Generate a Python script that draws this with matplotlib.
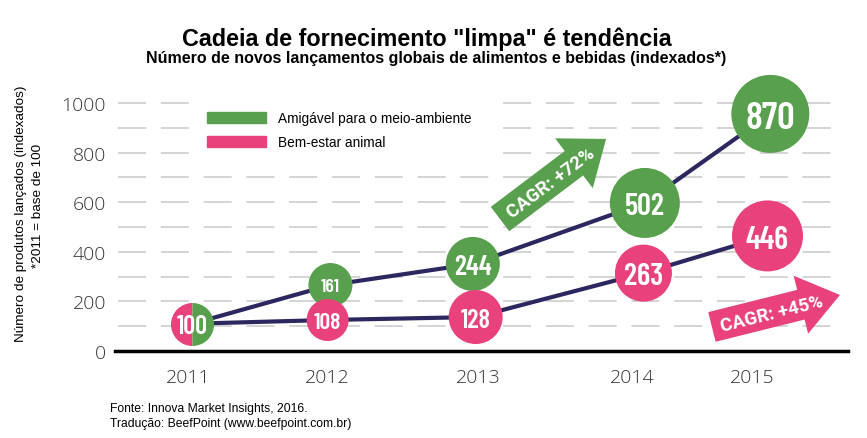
import matplotlib
matplotlib.use("Agg")
import matplotlib.pyplot as plt
from matplotlib.patches import Rectangle, Patch, FancyArrowPatch, ArrowStyle

# data
years = ["2011", "2012", "2013", "2014", "2015"]
year_pos = [2011, 2011.99, 2013.06, 2014.15, 2015]

green_labels = ["100", "161", "244", "502", "870"]
pink_labels = ["100", "108", "128", "263", "446"]

# where the circles sit (the original is not drawn to scale)
green_x = [2011.03, 2012.01, 2013.02, 2014.24, 2015.13]
green_y = [110, 266, 351, 597, 956]
pink_x = [2011.03, 2011.99, 2013.04, 2014.23, 2015.11]
pink_y = [110, 125, 137, 314, 464]

# circle diameters (px) and number sizes (pt)
green_d = [43, 44, 54, 70, 78]
pink_d = [43, 42, 54, 57, 71]
green_fs = [19, 14, 20, 22, 28]
pink_fs = [19, 17, 19, 22, 23]

green = '#58a04d'
pink = '#e8417b'
navy = '#2b2860'
narrow = ['Barlow Condensed', 'Roboto Condensed', 'IBM Plex Sans Condensed', 'DejaVu Sans']
arrow_font = ['Roboto', 'DejaVu Sans']

plt.rcParams['lines.scale_dashes'] = False

fig = plt.figure(figsize=(8.67, 4.39), dpi=100)
ax = fig.add_axes([115/867, 87/439, 733/867, 248/439])
ax.set_xlim(2010.482, 2015.681)
ax.set_ylim(0, 1000)
for s in ['top', 'right', 'left']:
    ax.spines[s].set_visible(False)
ax.spines['bottom'].set_linewidth(2.5)
ax.spines['bottom'].set_zorder(8)

# dashed grid
for v in range(100, 1001, 100):
    ax.axhline(v, xmin=0, xmax=0.978, color='#c9c9c9', lw=1.1,
               ls=(28.6, (20.2, 10.6)), zorder=1, clip_on=False)

ax.set_yticks(range(0, 1001, 200))
ax.set_xticks(year_pos, years)
ax.tick_params(axis='y', length=0, pad=6.5, labelsize=14, labelcolor='#333333')
ax.tick_params(axis='x', length=0, pad=12, labelsize=14, labelcolor='#333333')
for label in ax.get_xticklabels() + ax.get_yticklabels():
    label.set_fontfamily('Open Sans')
    label.set_fontweight('light')

# white box behind legend
ax.add_patch(Rectangle((0.109, 0.766), 0.413, 0.28, transform=ax.transAxes,
                       color='white', zorder=1.5, clip_on=False))
handles = [Patch(color=green, label='Amigável para o meio-ambiente'),
           Patch(color=pink, label='Bem-estar animal')]
ax.legend(handles=handles, loc='upper left', bbox_to_anchor=(0.1255, 0.968),
          frameon=False, borderpad=0, borderaxespad=0, handlelength=4.3,
          handleheight=0.82, handletextpad=0.95, labelspacing=0.75,
          prop={'family': 'Liberation Sans', 'size': 9.8})

# lines
ax.plot(green_x, green_y, color=navy, lw=3, zorder=3, solid_capstyle='butt')
ax.plot(pink_x, pink_y, color=navy, lw=3, zorder=3, solid_capstyle='butt')

# green circles
ax.scatter(green_x[1:], green_y[1:], s=[(d*0.72)**2 for d in green_d[1:]],
           color=green, linewidths=0, zorder=4, clip_on=False)
for x, y, t, fs in zip(green_x[1:], green_y[1:], green_labels[1:], green_fs[1:]):
    ax.annotate(t, (x, y), xytext=(0, -0.1*fs), textcoords='offset points',
                ha='center', va='center', color='white', fontsize=fs,
                fontweight='semibold', family=narrow, zorder=5)

# pink circles
ax.scatter(pink_x[1:], pink_y[1:], s=[(d*0.72)**2 for d in pink_d[1:]],
           color=pink, linewidths=0, zorder=6, clip_on=False)
for x, y, t, fs in zip(pink_x[1:], pink_y[1:], pink_labels[1:], pink_fs[1:]):
    ax.annotate(t, (x, y), xytext=(0, -0.1*fs), textcoords='offset points',
                ha='center', va='center', color='white', fontsize=fs,
                fontweight='semibold', family=narrow, zorder=7)

# 2011: shared start, half and half
ax.plot([pink_x[0]], [pink_y[0]], marker='o', ms=pink_d[0]*0.72, fillstyle='left',
        markerfacecolor=pink, markerfacecoloralt=green, markeredgewidth=0, zorder=6)
ax.annotate(pink_labels[0], (pink_x[0], pink_y[0]), xytext=(0, -0.1*pink_fs[0]),
            textcoords='offset points', ha='center', va='center', color='white',
            fontsize=pink_fs[0], fontweight='semibold', family=narrow, zorder=7)

# CAGR arrows
ax.add_patch(FancyArrowPatch((2013.213, 532), (2013.965, 855),
             arrowstyle=ArrowStyle.Simple(head_length=29, head_width=45, tail_width=22),
             mutation_scale=1, shrinkA=0, shrinkB=0, color=green, lw=0, zorder=2,
             clip_on=False))
ax.text(2013.57, 678, "CAGR: +72%", rotation=37, rotation_mode='anchor',
        ha='center', va='center', color='white', fontsize=13.5, fontweight='bold',
        family=arrow_font, zorder=3)
ax.add_patch(FancyArrowPatch((2014.716, 97), (2015.624, 226),
             arrowstyle=ArrowStyle.Simple(head_length=29, head_width=43, tail_width=22),
             mutation_scale=1, shrinkA=0, shrinkB=0, color=pink, lw=0, zorder=2,
             clip_on=False))
ax.text(2015.14, 150, "CAGR: +45%", rotation=14, rotation_mode='anchor',
        ha='center', va='center', color='white', fontsize=13.5, fontweight='bold',
        family=arrow_font, zorder=3)

# texts
fig.text(427/867, 1 - 46/439, 'Cadeia de fornecimento "limpa" é tendência',
         ha='center', va='baseline', fontsize=16.8, fontweight='bold',
         family='Liberation Sans')
fig.text(436/867, 1 - 63/439,
         'Número de novos lançamentos globais de alimentos e bebidas (indexados*)',
         ha='center', va='baseline', fontsize=11.5, fontweight='bold',
         family='Liberation Sans')
fig.text(21/867, 1 - 214/439, 'Número de produtos lançados (indexados)',
         rotation=90, ha='center', va='center', fontsize=9.7, family='Liberation Sans')
fig.text(38/867, 1 - 206/439, '*2011 = base de 100',
         rotation=90, ha='center', va='center', fontsize=9.7, family='Liberation Sans')
fig.text(110/867, 1 - 412/439, 'Fonte: Innova Market Insights, 2016.',
         va='baseline', fontsize=8.7, family='Liberation Sans')
fig.text(110/867, 1 - 427/439, 'Tradução: BeefPoint (www.beefpoint.com.br)',
         va='baseline', fontsize=8.7, family='Liberation Sans')

fig.savefig('out.png', dpi=100)
